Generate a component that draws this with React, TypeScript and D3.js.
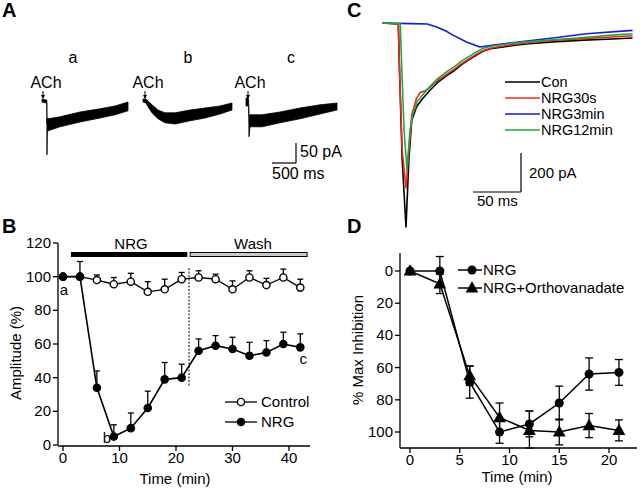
import React from 'react';
import * as d3 from 'd3';

const FONT = '"Liberation Sans", Arial, Helvetica, sans-serif';

// ---------- Panel A: ACh-evoked currents (time ms, lower pA, upper pA) ----------
const traceA_a: [number, number, number][] = [
  [0, -5, 2.5], [83, -7.5, 0], [100, -8, 0], [104, -137, -60], [110, -80, -45],
  [125, -77, -47], [375, -67, -42], [792, -55, -30], [1208, -45, -22], [1521, -37, -15], [1792, -27, -5],
];
const traceA_b: [number, number, number][] = [
  [0, -5, 2.5], [62, -7.5, 2.5], [104, -17, -2.5], [187, -32, -12], [312, -47, -25],
  [458, -57, -32], [667, -60, -32], [979, -52, -25], [1292, -45, -20], [1604, -35, -15], [1854, -25, -7.5],
];
const traceA_c: [number, number, number][] = [
  [0, -15, 5], [42, -15, 5], [55, -15, 0], [62, -92, -40], [83, -67, -37], [333, -67, -37],
  [708, -57, -30], [1125, -47, -20], [1542, -35, -12], [1896, -25, -7.5],
];
const traceALabels = ['a', 'b', 'c'];

// ---------- Panel C: averaged currents ----------
const conT = [0, 17, 18, 21, 25, 28, 31, 36, 42, 50, 58, 66, 75, 84, 95, 105, 115, 130, 150, 178, 210, 240, 261];
const conI = [0, -5, -200, -700, -1046, -700, -500, -430, -390, -345, -305, -275, -245, -210, -175, -145, -130, -120, -108, -97, -88, -82, -77];
const nrg30T = [0, 17, 18, 21, 25, 28, 31, 36, 40, 45, 50, 58, 66, 75, 84, 95, 105, 115, 130, 150, 178, 210, 240, 261];
const nrg30I = [0, -5, -200, -650, -846, -650, -470, -385, -355, -348, -330, -295, -268, -238, -205, -170, -142, -127, -115, -102, -90, -80, -72, -65];
const nrg3T = [0, 30, 47, 57, 66, 74, 88, 102, 116, 144, 178, 213, 261];
const nrg3I = [0, -3, -5, -20, -40, -62, -97, -123, -113, -97, -77, -55, -38];
const nrg12T = [0, 19, 20, 23, 26, 29, 32, 37, 42, 50, 58, 66, 75, 84, 95, 105, 115, 130, 150, 178, 210, 240, 261];
const nrg12I = [0, -3, -150, -550, -754, -560, -470, -400, -370, -325, -285, -255, -225, -192, -158, -130, -118, -108, -97, -86, -74, -62, -55];
const cLegend = ['Con', 'NRG30s', 'NRG3min', 'NRG12min'];
const cColors = ['#000000', '#ee2a1c', '#1a1ad6', '#22a640'];

// ---------- Panel B ----------
const bTimes = [0, 3, 6, 9, 12, 15, 18, 21, 24, 27, 30, 33, 36, 39, 42];
const controlB = [100, 100, 98, 95.5, 97, 91, 92.5, 98.5, 99.5, 98.5, 92.5, 99.5, 95, 99.5, 93.5];
const controlBErr = [0, 0, 3, 4, 5, 6, 6, 4, 4, 3, 5, 4, 4, 5, 5];
const nrgB = [100, 100, 34, 5, 10, 22, 39, 40, 56, 59, 57, 53, 55, 60, 58];
const nrgBErr = [0, 9, 10, 7, 9, 10, 10, 8, 7, 6, 7, 8, 7, 7, 8];
const bYTicks = [0, 20, 40, 60, 80, 100, 120];
const bXTicks = [0, 10, 20, 30, 40];

// ---------- Panel D ----------
const dTimes = [0, 3, 6, 9, 12, 15, 18, 21];
const nrgD = [0, 0, 69, 100, 95, 82, 64, 63];
const nrgDErr = [0, 9, 10, 7, 8, 10.5, 10, 8];
const orthoD = [0, 8, 65, 91, 99, 100, 96, 99];
const orthoDErr = [0, 6, 6, 9, 12, 8, 7.5, 6.5];
const dYTicks = [0, 20, 40, 60, 80, 100];
const dXTicks = [0, 5, 10, 15, 20];

const txt = (x: number, y: number, s: string, extra: any = {}) => (
  <text x={x} y={y} fontFamily={FONT} fontSize={15} fill="#000" {...extra}>{s}</text>
);

function PanelA() {
  const origins = [42, 143, 246];
  const traces = [traceA_a, traceA_b, traceA_c];
  const yA = d3.scaleLinear().domain([0, -50]).range([100, 120]);
  const labelX = [73, 188, 291];
  const achX = [46, 148, 250];
  const arrowX = [43, 145, 248];
  return (
    <g>
      {traces.map((tr, i) => {
        const xA = d3.scaleLinear().domain([0, 500]).range([origins[i], origins[i] + 24]);
        const area = d3.area<[number, number, number]>()
          .x(d => xA(d[0])).y0(d => yA(d[1])).y1(d => yA(d[2]));
        return (
          <g key={i}>
            <path d={area(tr) || ''} fill="#000" stroke="#000" strokeWidth={0.8} />
            {txt(labelX[i], 63, traceALabels[i], { textAnchor: 'middle', fontSize: 16 })}
            {txt(achX[i], 88, 'ACh', { textAnchor: 'middle', fontSize: 16 })}
            <line x1={arrowX[i]} x2={arrowX[i]} y1={91} y2={98} stroke="#000" strokeWidth={1} />
            <path d={`M${arrowX[i] - 2},${95} L${arrowX[i]},${99} L${arrowX[i] + 2},${95}Z`} fill="#000" />
          </g>
        );
      })}
      {/* scale bar */}
      <line x1={296} x2={296} y1={143} y2={163} stroke="#000" strokeWidth={1.2} />
      <line x1={272} x2={296} y1={163} y2={163} stroke="#000" strokeWidth={1.2} />
      {txt(300, 157, '50 pA', { fontSize: 16 })}
      {txt(272, 179, '500 ms', { fontSize: 16 })}
    </g>
  );
}

function PanelC() {
  const xC = d3.scaleLinear().domain([0, 50]).range([382, 430]);
  const yC = d3.scaleLinear().domain([0, -200]).range([23, 62]);
  const series = [
    [conT, conI], [nrg30T, nrg30I], [nrg3T, nrg3I], [nrg12T, nrg12I],
  ];
  const order = [2, 0, 1, 3];
  const line = d3.line<[number, number]>().x(d => xC(d[0])).y(d => yC(d[1]));
  const legY = [82, 98, 114, 130];
  return (
    <g>
      {order.map(i => {
        const [t, v] = series[i];
        const pts = t.map((tt, j) => [tt, v[j]] as [number, number]);
        return <path key={i} d={line(pts) || ''} fill="none" stroke={cColors[i]} strokeWidth={1.6} strokeLinejoin="round" />;
      })}
      {cLegend.map((s, i) => (
        <g key={s}>
          <line x1={505} x2={540} y1={legY[i]} y2={legY[i]} stroke={cColors[i]} strokeWidth={1.6} />
          {txt(541, legY[i] + 5, s, { fontSize: 14.5 })}
        </g>
      ))}
      <line x1={521} x2={521} y1={153} y2={192} stroke="#000" strokeWidth={1.2} />
      <line x1={473} x2={521} y1={192} y2={192} stroke="#000" strokeWidth={1.2} />
      {txt(529, 178, '200 pA')}
      {txt(477, 206, '50 ms')}
    </g>
  );
}

function PanelB() {
  const xB = d3.scaleLinear().domain([0, 40]).range([63, 289]);
  const yB = d3.scaleLinear().domain([0, 120]).range([445, 243]);
  const line = d3.line<number>().x((_, i) => xB(bTimes[i])).y(d => yB(d));
  return (
    <g>
      {/* axes */}
      <line x1={58} x2={58} y1={yB(120)} y2={yB(0)} stroke="#000" strokeWidth={1.3} />
      <line x1={58} x2={310} y1={yB(0) + 1} y2={yB(0) + 1} stroke="#000" strokeWidth={1.3} />
      {bYTicks.map(t => (
        <g key={t}>
          <line x1={53} x2={58} y1={yB(t)} y2={yB(t)} stroke="#000" strokeWidth={1.3} />
          {txt(51, yB(t) + 5, String(t), { textAnchor: 'end' })}
        </g>
      ))}
      {bXTicks.map(t => (
        <g key={t}>
          <line x1={xB(t)} x2={xB(t)} y1={yB(0) + 1} y2={yB(0) + 6} stroke="#000" strokeWidth={1.3} />
          {txt(xB(t), 463, String(t), { textAnchor: 'middle' })}
        </g>
      ))}
      {txt(175, 484, 'Time (min)', { textAnchor: 'middle' })}
      <text transform="translate(21,353) rotate(-90)" fontFamily={FONT} fontSize={15} textAnchor="middle">Amplitude (%)</text>
      {/* treatment bars */}
      <rect x={xB(1.4)} y={252} width={xB(22) - xB(1.4)} height={5} fill="#000" />
      <rect x={xB(22.5)} y={252.5} width={xB(43.2) - xB(22.5)} height={4} fill="#c8c8c8" stroke="#000" strokeWidth={1} />
      {txt(131, 249, 'NRG', { textAnchor: 'middle' })}
      {txt(253, 249, 'Wash', { textAnchor: 'middle' })}
      <line x1={xB(22.3)} x2={xB(22.3)} y1={268} y2={387} stroke="#000" strokeWidth={1} strokeDasharray="2,1.5" />
      {/* error bars */}
      {bTimes.map((t, i) => controlBErr[i] > 0 && (
        <g key={'ce' + i} stroke="#000" strokeWidth={1.3}>
          <line x1={xB(t)} x2={xB(t)} y1={yB(controlB[i])} y2={yB(controlB[i] + controlBErr[i])} />
          <line x1={xB(t) - 3} x2={xB(t) + 3} y1={yB(controlB[i] + controlBErr[i])} y2={yB(controlB[i] + controlBErr[i])} />
        </g>
      ))}
      {bTimes.map((t, i) => nrgBErr[i] > 0 && (
        <g key={'ne' + i} stroke="#000" strokeWidth={1.3}>
          <line x1={xB(t)} x2={xB(t)} y1={yB(nrgB[i])} y2={yB(nrgB[i] + nrgBErr[i])} />
          <line x1={xB(t) - 3} x2={xB(t) + 3} y1={yB(nrgB[i] + nrgBErr[i])} y2={yB(nrgB[i] + nrgBErr[i])} />
        </g>
      ))}
      <path d={line(controlB) || ''} fill="none" stroke="#000" strokeWidth={1.3} />
      <path d={line(nrgB) || ''} fill="none" stroke="#000" strokeWidth={1.6} />
      {bTimes.map((t, i) => (
        <circle key={'c' + i} cx={xB(t)} cy={yB(controlB[i])} r={3.6} fill="#fff" stroke="#000" strokeWidth={1.4} />
      ))}
      {bTimes.map((t, i) => (
        <circle key={'n' + i} cx={xB(t)} cy={yB(nrgB[i])} r={4.3} fill="#000" />
      ))}
      {txt(64, 295, 'a', { textAnchor: 'middle' })}
      {txt(107, 443, 'b', { textAnchor: 'middle' })}
      {txt(xB(42) + 3, 364, 'c', { textAnchor: 'middle' })}
      {/* legend */}
      <line x1={225} x2={257} y1={402} y2={402} stroke="#000" strokeWidth={1.3} />
      <circle cx={241} cy={402} r={3.6} fill="#fff" stroke="#000" strokeWidth={1.4} />
      {txt(261, 407, 'Control')}
      <line x1={225} x2={257} y1={422} y2={422} stroke="#000" strokeWidth={1.3} />
      <circle cx={241} cy={422} r={4.3} fill="#000" />
      {txt(261, 427, 'NRG')}
    </g>
  );
}

function triangle(cx: number, cy: number, s: number) {
  return `M${cx},${cy - s * 0.62} L${cx + s * 0.58},${cy + s * 0.42} L${cx - s * 0.58},${cy + s * 0.42}Z`;
}

function PanelD() {
  const xD = d3.scaleLinear().domain([0, 20]).range([410, 609]);
  const yD = d3.scaleLinear().domain([0, 100]).range([271, 432]);
  const line = d3.line<number>().x((_, i) => xD(dTimes[i])).y(d => yD(d));
  const axisY = 448;
  return (
    <g>
      <line x1={400} x2={400} y1={253} y2={axisY} stroke="#000" strokeWidth={1.3} />
      <line x1={400} x2={637} y1={axisY} y2={axisY} stroke="#000" strokeWidth={1.3} />
      {dYTicks.map(t => (
        <g key={t}>
          <line x1={395} x2={400} y1={yD(t)} y2={yD(t)} stroke="#000" strokeWidth={1.3} />
          {txt(393, yD(t) + 5, String(t), { textAnchor: 'end' })}
        </g>
      ))}
      {dXTicks.map(t => (
        <g key={t}>
          <line x1={xD(t)} x2={xD(t)} y1={axisY} y2={axisY + 5} stroke="#000" strokeWidth={1.3} />
          {txt(xD(t), 465, String(t), { textAnchor: 'middle' })}
        </g>
      ))}
      {txt(517, 482, 'Time (min)', { textAnchor: 'middle' })}
      <text transform="translate(363,350) rotate(-90)" fontFamily={FONT} fontSize={15} textAnchor="middle">% Max Inhibition</text>
      {[[nrgD, nrgDErr], [orthoD, orthoDErr]].map(([v, e], k) => (
        <g key={k} stroke="#000" strokeWidth={1.3}>
          {dTimes.map((t, i) => e[i] > 0 && (
            <g key={i}>
              <line x1={xD(t)} x2={xD(t)} y1={yD(v[i] - e[i])} y2={Math.min(axisY, yD(v[i] + e[i]))} />
              <line x1={xD(t) - 4} x2={xD(t) + 4} y1={yD(v[i] - e[i])} y2={yD(v[i] - e[i])} />
              <line x1={xD(t) - 4} x2={xD(t) + 4} y1={Math.min(axisY, yD(v[i] + e[i]))} y2={Math.min(axisY, yD(v[i] + e[i]))} />
            </g>
          ))}
        </g>
      ))}
      <path d={line(nrgD) || ''} fill="none" stroke="#000" strokeWidth={1.5} />
      <path d={line(orthoD) || ''} fill="none" stroke="#000" strokeWidth={1.5} />
      {dTimes.map((t, i) => (
        <circle key={'c' + i} cx={xD(t)} cy={yD(nrgD[i])} r={4.5} fill="#000" />
      ))}
      {dTimes.map((t, i) => (
        <path key={'t' + i} d={triangle(xD(t), yD(orthoD[i]), 11)} fill="#000" />
      ))}
      <line x1={458} x2={482} y1={270} y2={270} stroke="#000" strokeWidth={1.5} />
      <circle cx={472} cy={270} r={4.5} fill="#000" />
      {txt(483, 275, 'NRG')}
      <line x1={458} x2={482} y1={288} y2={288} stroke="#000" strokeWidth={1.5} />
      <path d={triangle(472, 288, 11)} fill="#000" />
      {txt(483, 293, 'NRG+Orthovanadate')}
    </g>
  );
}

export default function App() {
  return (
    <svg width={640} height={491} style={{ position: 'absolute', left: 0, top: 0, background: '#fff' }}>
      <rect width={640} height={491} fill="#fff" />
      <text x={2} y={17} fontFamily={FONT} fontSize={20} fontWeight="bold">A</text>
      <text x={2} y={233} fontFamily={FONT} fontSize={20} fontWeight="bold">B</text>
      <text x={347} y={17} fontFamily={FONT} fontSize={20} fontWeight="bold">C</text>
      <text x={347} y={233} fontFamily={FONT} fontSize={20} fontWeight="bold">D</text>
      <PanelA />
      <PanelC />
      <PanelB />
      <PanelD />
    </svg>
  );
}
